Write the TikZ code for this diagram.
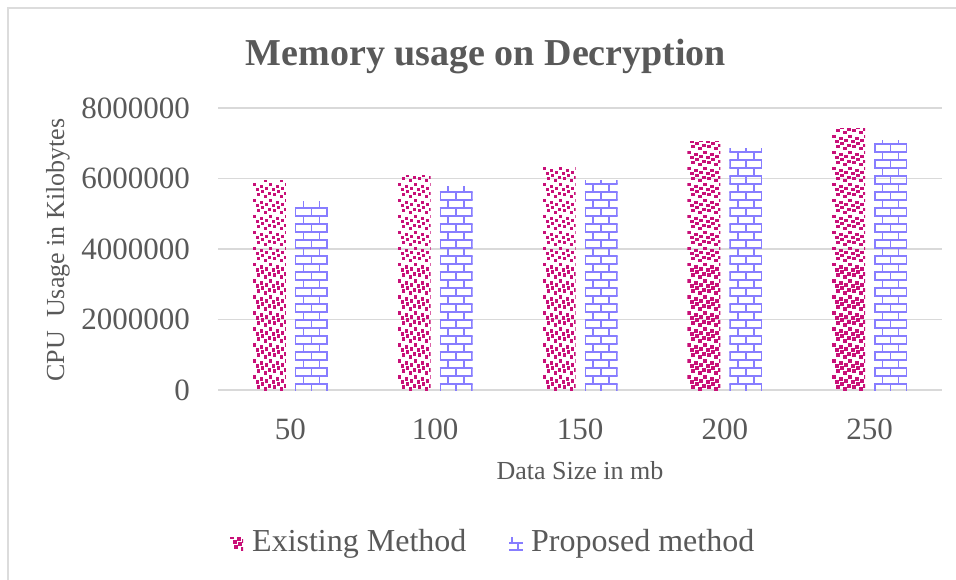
\documentclass[tikz,border=0pt]{standalone}
\usepackage{fontspec}
\setmainfont{Liberation Serif}
\definecolor{existc}{RGB}{200,16,120}
\definecolor{propc}{RGB}{135,125,255}
\definecolor{txtc}{RGB}{89,89,89}
\definecolor{gridc}{RGB}{217,217,217}
\definecolor{framec}{RGB}{220,220,220}
% #1 left x, #2 top y, #3 bottom y, #4 width
\newcommand{\confettirect}[4]{%
  \begin{scope}
    \clip (#1,#2) rectangle ({#1+#4},#3);
    \foreach \i in {0,...,2}{\foreach \j in {1,...,18}{
      \foreach \a/\b in {0/1,3/6,4/11,7/3,8/8,11/13,12/5,15/10}{
        \fill[existc] ({#1+16*\i+\a},{#3-16*\j+\b}) rectangle ++(3.5,3.5);
      }}}
  \end{scope}}
\newcommand{\brickbar}[2]{%
  \begin{scope}
    \clip (#1,#2) rectangle ({#1+33},390);
    \foreach \k in {0,...,34}{
      \draw[brickline] (#1,{384-8*\k}) -- ++(33,0);
    }
    \foreach \k in {-1,1,...,33}{
      \draw[brickline] ({#1+0.75},{384-8*\k}) -- ++(0,-8);
      \draw[brickline] ({#1+16.5},{384-8*\k}) -- ++(0,-8);
      \draw[brickline] ({#1+32.25},{384-8*\k}) -- ++(0,-8);
    }
    \foreach \k in {0,2,...,34}{
      \draw[brickline] ({#1+8.5},{384-8*\k}) -- ++(0,-8);
      \draw[brickline] ({#1+24.5},{384-8*\k}) -- ++(0,-8);
    }
  \end{scope}}
\begin{document}
\begin{tikzpicture}[x=1pt,y=-1pt,
  brickline/.style={propc,line width=1.5pt},
  gridline/.style={gridc,line width=1.3pt},
  txt/.style={text=txtc,inner sep=0pt},
  ticklab/.style={txt,anchor=east,font=\fontsize{31}{33}\selectfont},
  catlab/.style={txt,font=\fontsize{31}{33}\selectfont},
  leglab/.style={txt,anchor=west,font=\fontsize{32}{34}\selectfont}]
\useasboundingbox (0,0) rectangle (956,580);
\fill[white] (0,0) rectangle (956,580);
\draw[framec,line width=2pt] (8,580) -- (8,8) -- (956,8);
% title
\node[txt,font=\fontsize{38}{40}\selectfont\bfseries] (title) at (486,57) {Memory usage on Decryption};
% grid and y ticks
\foreach \v/\y in {0/390,2000000/319.5,4000000/249,6000000/178.5,8000000/108}{
  \draw[gridline] (218,\y) -- (942,\y);
  \node[ticklab] (t\v) at (190,\y) {\v};
}
% y label
\node[txt,rotate=90,font=\fontsize{26}{28}\selectfont] (ylab) at (58,250) {CPU~ Usage in Kilobytes};
% bars
\foreach \c/\e/\p [count=\n] in {290.4/5.93/5.36, 435.2/6.08/5.78, 580/6.33/5.93, 724.8/7.06/6.84, 869.6/7.43/7.09}{
  \confettirect{\c-37.5}{390-35.25*\e}{390}{33}
  \brickbar{\c+4.5}{390-35.25*\p}
}
% category labels
\foreach \c/\l in {290.4/50, 435.2/100, 580/150, 724.8/200, 869.6/250}{
  \node[catlab] (cat\l) at (\c,429) {\l};
}
\node[txt,font=\fontsize{26}{28}\selectfont] (xlab) at (580,471) {Data Size in mb};
% legend
\confettirect{230}{537}{550}{13}
\begin{scope}
  \clip (509,537) rectangle (523,551);
  \draw[brickline] (509,543) -- (523,543);
  \draw[brickline] (512,537) -- (512,543);
  \draw[brickline] (518,543) -- (518,551);
  \draw[brickline] (509,550) -- (523,550);
\end{scope}
\node[leglab] (leg1) at (252,544) {Existing Method};
\node[leglab] (leg2) at (531,544) {Proposed method};
\end{tikzpicture}
\end{document}
